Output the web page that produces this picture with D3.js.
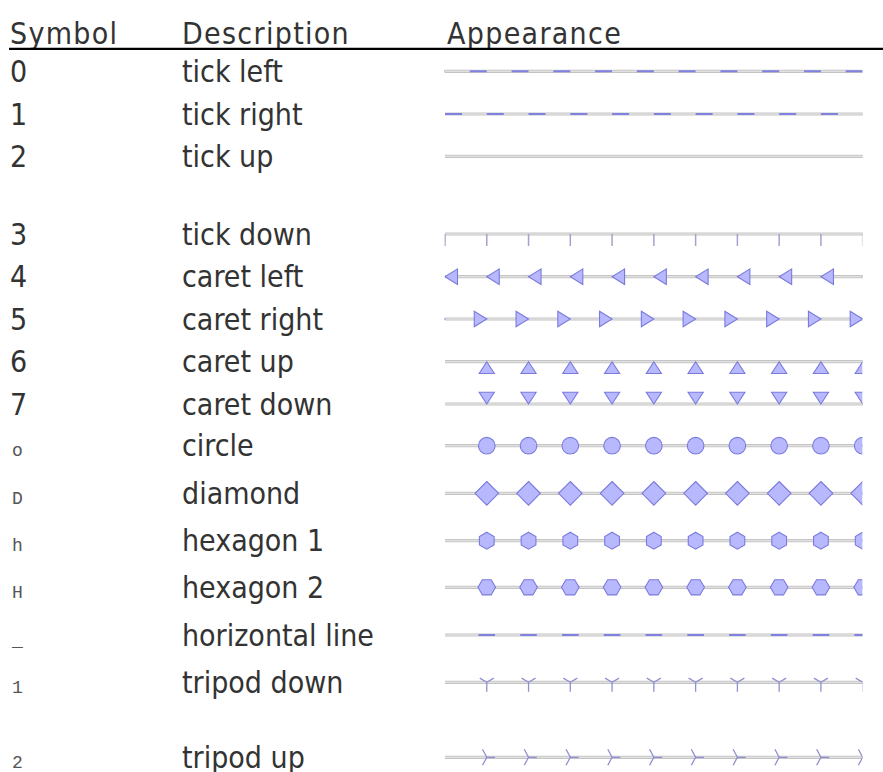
<!DOCTYPE html>
<html>
<head>
<meta charset="utf-8">
<script src="https://cdn.jsdelivr.net/npm/d3@7"></script>
<style>
  html, body { margin: 0; padding: 0; background: #fff; }
  svg { display: block; }
</style>
</head>
<body>
<svg id="chart" width="883" height="772"></svg>
<script>
// ---------------- data ----------------
const headers = ["Symbol", "Description", "Appearance"];
const symbols = ["0", "1", "2", "3", "4", "5", "6", "7", "o", "D", "h", "H", "_", "1", "2"];
const descriptions = ["tick left", "tick right", "tick up", "tick down", "caret left", "caret right",
  "caret up", "caret down", "circle", "diamond", "hexagon 1", "hexagon 2", "horizontal line",
  "tripod down", "tripod up"];
const markerKinds = ["tickleft", "tickright", "tickup", "tickdown", "caretleft", "caretright",
  "caretup", "caretdown", "circle", "diamond", "hexagon1", "hexagon2", "hline", "tridown", "triup"];
// symbols that are written in the code (monospace) font vs. plain numbers
const codeSymbol = [false, false, false, false, false, false, false, false, true, true, true, true, true, true, true];
// marker positions along each sample line (data x index)
const markerIndex = [0, 1, 2, 3, 4, 5, 6, 7, 8, 9, 10];
// first marker index shown in each sample
const firstShown = [0, 0, 0, 0, 0, 0, 1, 1, 1, 1, 1, 1, 1, 1, 1];

// ---------------- layout ----------------
const W = 883, H = 772;
const rowPitch = [0, 42.7, 42.3, 77.7, 42.7, 42.3, 42.7, 42.3, 41.7, 47.6, 47.4, 46.6, 47.7, 47.3, 75];
const firstRowY = 71.3;
const baselineOffset = 10.7;
const colX = { symbol: 10, desc: 182, app: 447 };
const lineX0 = 445, lineX1 = 862.7;

const rows = symbols.map((s, i) => ({
  i, sym: s, desc: descriptions[i], kind: markerKinds[i], code: codeSymbol[i], first: firstShown[i]
}));

const rowRange = [];
rowPitch.reduce((acc, p) => { const v = acc + p; rowRange.push(v); return v; }, firstRowY);
const yRow = d3.scaleOrdinal().domain(d3.range(rows.length)).range(rowRange);
const x = d3.scaleLinear().domain(d3.extent(markerIndex)).range([lineX0, lineX1]);

const svg = d3.select("#chart");
const sans = "'DejaVu Sans Condensed', 'DejaVu Sans', sans-serif";
const mono = "'Liberation Mono', 'DejaVu Sans Mono', monospace";
const textColor = "#333";
const fontSize = 30;

// header
const headerG = svg.append("g");
headerG.selectAll("text").data(headers).join("text")
  .attr("x", (d, i) => [colX.symbol, colX.desc, colX.app][i])
  .attr("y", 44)
  .attr("font-family", sans)
  .attr("font-stretch", "condensed")
  .attr("font-size", fontSize)
  .attr("letter-spacing", 1.3)
  .attr("fill", textColor)
  .text(d => d);
svg.append("line")
  .attr("x1", 9).attr("x2", W).attr("y1", 48.8).attr("y2", 48.8)
  .attr("stroke", "#000").attr("stroke-width", 2.2);

// defs clip (markers only)
const defs = svg.append("defs");
rows.forEach(r => {
  const y = yRow(r.i);
  const top = r.kind === "tickup" ? y + 0.6 : y - 22;
  defs.append("clipPath").attr("id", "clip" + r.i)
    .append("rect")
    .attr("x", lineX0 - 0.5).attr("width", lineX1 - 0.4 - (lineX0 - 0.5))
    .attr("y", top).attr("height", (y + 22) - top);
});

const rowG = svg.selectAll("g.row").data(rows).join("g").attr("class", "row");

// symbol column
rowG.append("text")
  .attr("x", d => d.code ? 12 : colX.symbol)
  .attr("y", d => yRow(d.i) + baselineOffset)
  .attr("font-family", d => d.code ? mono : sans)
  .attr("font-stretch", d => d.code ? null : "condensed")
  .attr("font-size", d => d.code ? 18 : fontSize)
  .attr("fill", d => d.code ? "#555" : textColor)
  .text(d => d.sym);

// description column
rowG.append("text")
  .attr("x", colX.desc)
  .attr("y", d => yRow(d.i) + baselineOffset)
  .attr("font-family", sans)
  .attr("font-stretch", "condensed")
  .attr("font-size", fontSize)
  .attr("fill", textColor)
  .text(d => d.desc);

// sample appearance
const markFill = "#b8b8ff", markStroke = "#7a7adc", tickBlue = "#8080e0";

rowG.append("line")
  .attr("x1", x(markerIndex[0])).attr("x2", x(markerIndex[markerIndex.length - 1]))
  .attr("y1", d => yRow(d.i)).attr("y2", d => yRow(d.i))
  .attr("stroke", "#c4c4c4").attr("stroke-width", 3.2);
rowG.append("line")
  .attr("x1", x(markerIndex[0])).attr("x2", x(markerIndex[markerIndex.length - 1]))
  .attr("y1", d => yRow(d.i)).attr("y2", d => yRow(d.i))
  .attr("stroke", "#ebebeb").attr("stroke-width", 1.1);

const sample = rowG.append("g").attr("clip-path", d => `url(#clip${d.i})`);

function markerPath(kind) {
  const p = d3.path();
  switch (kind) {
    case "tickleft": p.moveTo(-17, 0); p.lineTo(0, 0); break;
    case "tickright": p.moveTo(0, 0); p.lineTo(17, 0); break;
    case "tickup": p.moveTo(0, 0); p.lineTo(0, -12); break;
    case "tickdown": p.moveTo(0, 0); p.lineTo(0, 12); break;
    case "hline": p.moveTo(-8.3, 0); p.lineTo(8.3, 0); break;
    case "caretleft": p.moveTo(0, 0); p.lineTo(12.5, -7.8); p.lineTo(12.5, 7.8); p.closePath(); break;
    case "caretright": p.moveTo(0, 0); p.lineTo(-12.5, -7.8); p.lineTo(-12.5, 7.8); p.closePath(); break;
    case "caretup": p.moveTo(0, 0); p.lineTo(7.6, 11.8); p.lineTo(-7.6, 11.8); p.closePath(); break;
    case "caretdown": p.moveTo(0, 0); p.lineTo(7.6, -11.8); p.lineTo(-7.6, -11.8); p.closePath(); break;
    case "circle": p.arc(0, 0, 8.3, 0, 2 * Math.PI); p.closePath(); break;
    case "diamond": p.moveTo(0, -11.8); p.lineTo(11.8, 0); p.lineTo(0, 11.8); p.lineTo(-11.8, 0); p.closePath(); break;
    case "hexagon1": {
      const R = 8.5;
      for (let k = 0; k < 6; k++) {
        const a = -Math.PI / 2 + k * Math.PI / 3;
        k ? p.lineTo(R * Math.cos(a), R * Math.sin(a)) : p.moveTo(R * Math.cos(a), R * Math.sin(a));
      }
      p.closePath(); break;
    }
    case "hexagon2": {
      const R = 8.8;
      for (let k = 0; k < 6; k++) {
        const a = k * Math.PI / 3;
        k ? p.lineTo(R * Math.cos(a), R * Math.sin(a)) : p.moveTo(R * Math.cos(a), R * Math.sin(a));
      }
      p.closePath(); break;
    }
    case "tridown": p.moveTo(0, 0); p.lineTo(0, 9.5); p.moveTo(0, 0); p.lineTo(-7, -4.2); p.moveTo(0, 0); p.lineTo(7, -4.2); break;
    case "triup": p.moveTo(0, 0); p.lineTo(8.3, 0); p.moveTo(0, 0); p.lineTo(-4.3, -8); p.moveTo(0, 0); p.lineTo(-4.3, 8); break;
  }
  return p.toString();
}

const lineKinds = new Set(["tickleft", "tickright", "hline"]);
const vtickKinds = new Set(["tickup", "tickdown"]);
const triKinds = new Set(["tridown", "triup"]);

sample.each(function (r) {
  const g = d3.select(this);
  const y = yRow(r.i);
  const shown = markerIndex.filter(k => k >= r.first);
  const path = markerPath(r.kind);
  const m = g.selectAll("path.m").data(shown).join("path")
    .attr("class", "m")
    .attr("transform", k => `translate(${x(k)},${y})`)
    .attr("d", path);
  if (lineKinds.has(r.kind)) {
    m.attr("fill", "none").attr("stroke", tickBlue).attr("stroke-width", 2);
  } else if (vtickKinds.has(r.kind)) {
    m.attr("fill", "none").attr("stroke", "#a2a2cc").attr("stroke-width", 1.5);
  } else if (triKinds.has(r.kind)) {
    m.attr("fill", "none").attr("stroke", "#8e8ed2").attr("stroke-width", 1.3);
  } else {
    m.attr("fill", markFill).attr("stroke", markStroke).attr("stroke-width", 1.1);
  }
});
</script>
</body>
</html>
